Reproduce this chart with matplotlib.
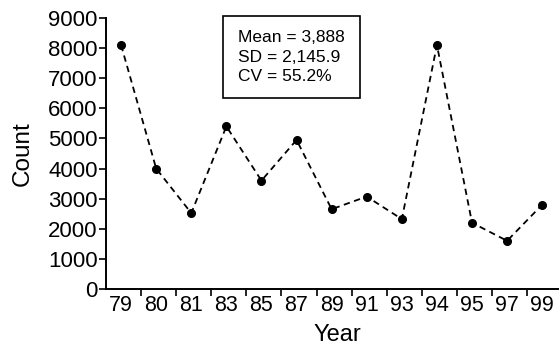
import matplotlib
matplotlib.use("Agg")
import matplotlib.pyplot as plt
import matplotlib.transforms as mtransforms
import numpy as np

plt.rcParams['font.family'] = ['Liberation Sans', 'DejaVu Sans']

years = ["79", "80", "81", "83", "85", "87", "89", "91", "93", "94", "95", "97", "99"]
counts = [8100, 4000, 2520, 5400, 3600, 4950, 2650, 3070, 2320, 8100, 2200, 1600, 2800]
yticks = [0, 1000, 2000, 3000, 4000, 5000, 6000, 7000, 8000, 9000]
stats_text = "Mean = 3,888\nSD = 2,145.9\nCV = 55.2%"

fig = plt.figure(figsize=(5.59, 3.45), dpi=100)
ax = fig.add_axes([106/559, 56/345, 452/559, 271/345])

x = np.arange(len(years))
ax.plot(x, counts, linestyle=(0, (3.5, 2.5)), color='black', linewidth=1.3,
        marker='o', markersize=5.5, markerfacecolor='black', markeredgecolor='black')

ax.set_ylim(0, 9000)
ax.set_xlim(-0.43, len(years) - 0.55)
ax.set_yticks(yticks)
ax.set_yticklabels([str(v) for v in yticks], fontsize=16)
ax.set_xticks(x)
ax.set_xticklabels(years, fontsize=15.5)
offset = mtransforms.ScaledTranslation(3/100, 0, fig.dpi_scale_trans)
for lab in ax.get_xticklabels():
    lab.set_transform(lab.get_transform() + offset)
ax.tick_params(axis='x', which='major', length=0, pad=4)
ax.set_xticks(x[:-1] + 0.57, minor=True)
ax.tick_params(axis='x', which='minor', length=5, width=1.2, direction='out')
ax.tick_params(axis='y', length=5, width=1.2, pad=1, direction='out')

for s in ['top', 'right']:
    ax.spines[s].set_visible(False)
for s in ['left', 'bottom']:
    ax.spines[s].set_linewidth(1.4)

ax.set_ylabel("Count", fontsize=17.5, labelpad=10)
ax.set_xlabel("Year", fontsize=17, labelpad=0, va='baseline')
ax.xaxis.set_label_coords(0.512, -(341 - 289) / 271)

fig.text(238/559, 1 - 57/345, stats_text, fontsize=12.5, ha='left', va='center',
         linespacing=1.35, multialignment='left',
         bbox=dict(boxstyle='square,pad=0.85', facecolor='white', edgecolor='black', linewidth=1.2))

fig.savefig("out.png", dpi=100)
